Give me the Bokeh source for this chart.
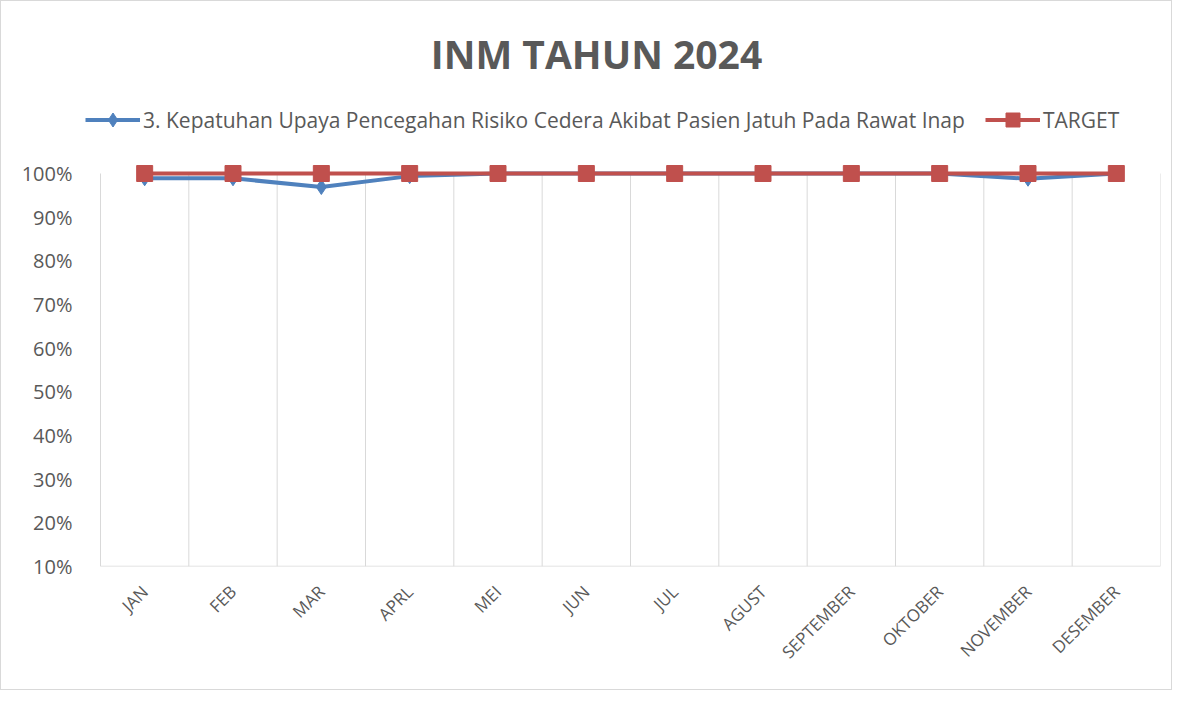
import numpy as np
from bokeh.plotting import figure
from bokeh.models import Range1d, FixedTicker, NumeralTickFormatter, Legend, LegendItem, Label
from bokeh.embed import file_html
from bokeh.resources import INLINE

# ---- data ----
months = ["JAN", "FEB", "MAR", "APRL", "MEI", "JUN", "JUL", "AGUST",
          "SEPTEMBER", "OKTOBER", "NOVEMBER", "DESEMBER"]
kepatuhan = [0.989, 0.989, 0.969, 0.994, 1.0, 1.0, 1.0, 1.0, 1.0, 1.0, 0.988, 1.0]
target = [1.0, 1.0, 1.0, 1.0, 1.0, 1.0, 1.0, 1.0, 1.0, 1.0, 1.0, 1.0]
y_ticks = [0.1, 0.2, 0.3, 0.4, 0.5, 0.6, 0.7, 0.8, 0.9, 1.0]
series_name = "3. Kepatuhan Upaya Pencegahan Risiko Cedera Akibat Pasien Jatuh Pada Rawat Inap"
target_name = "TARGET"
title_text = "INM TAHUN 2024"

FONT = "Open Sans"
TXT = "#595959"
GRID = "#D9D9D9"
BLUE = "#4F81BD"
RED = "#C0504D"

# ---- layout (pixels) ----
W, H = 1172, 690
frame_left = 80          # frame starts a bit left of the plot area so the legend fits inside
plot_left, plot_right = 99, 1159
plot_top, plot_bottom = 172, 565   # pixel rows of 100% and 10%

n = len(months)
x = np.arange(n) + 0.5
bounds = np.arange(n + 1)

px_per_cat = (plot_right - plot_left) / n
x_start = -(plot_left - frame_left) / px_per_cat
px_per_unit = (plot_bottom - plot_top) / (y_ticks[-1] - y_ticks[0])
y_end = y_ticks[0] + plot_bottom / px_per_unit

p = figure(width=W, height=H, output_backend="svg", toolbar_location=None,
           x_range=Range1d(x_start, n), y_range=Range1d(y_ticks[0], y_end),
           min_border_left=frame_left, min_border_right=W - plot_right,
           min_border_top=0, min_border_bottom=H - plot_bottom)
p.styles = {"border": "1px solid #D9D9D9"}
p.outline_line_color = None
p.xgrid.grid_line_color = None
p.ygrid.grid_line_color = None

# vertical category-boundary grid lines and bottom baseline
p.segment(x0=bounds, y0=[y_ticks[0]] * len(bounds), x1=bounds,
          y1=[y_ticks[-1]] * len(bounds), line_color=GRID, line_width=1)
p.segment(x0=[0], y0=[y_ticks[0]], x1=[n], y1=[y_ticks[0]], line_color=GRID, line_width=1.5)

# series
bl = p.line(x, kepatuhan, line_color=BLUE, line_width=4)
bs = p.scatter(x, kepatuhan, marker="diamond", size=15,
               fill_color=BLUE, line_color=BLUE)
rl = p.line(x, target, line_color=RED, line_width=4)
rs = p.scatter(x, target, marker="square", size=16, fill_color=RED, line_color=RED)

# axes
p.xaxis.ticker = FixedTicker(ticks=list(x))
p.xaxis.major_label_overrides = {float(v): m for v, m in zip(x, months)}
p.xaxis.major_label_orientation = np.pi / 4
p.xaxis.axis_line_color = None
p.xaxis.major_tick_line_color = None
p.xaxis.minor_tick_line_color = None
p.xaxis.major_label_text_font = FONT
p.xaxis.major_label_text_font_size = "17px"
p.xaxis.major_label_text_color = TXT
p.xaxis.major_label_standoff = 16

p.yaxis.ticker = FixedTicker(ticks=y_ticks)
p.yaxis.formatter = NumeralTickFormatter(format="0%")
p.yaxis.axis_line_color = None
p.yaxis.major_tick_line_color = None
p.yaxis.minor_tick_line_color = None
p.yaxis.major_label_text_font = FONT
p.yaxis.major_label_text_font_size = "20px"
p.yaxis.major_label_text_color = TXT
p.yaxis.major_label_standoff = 3

# legend (inside the frame, above the plot area)
legend = Legend(items=[LegendItem(label=series_name, renderers=[bl, bs]),
                       LegendItem(label=target_name, renderers=[rl, rs])],
                orientation="horizontal", location=(4, 429),
                glyph_width=55, glyph_height=35, label_standoff=3, spacing=20,
                padding=0, margin=0, border_line_color=None,
                background_fill_alpha=0,
                label_text_font=FONT, label_text_font_size="21px",
                label_text_color=TXT)
p.add_layout(legend)

# title
p.add_layout(Label(x=595 - frame_left, y=plot_bottom - 52, x_units="screen", y_units="screen",
                   text=title_text, text_align="center", text_baseline="alphabetic",
                   text_font=FONT, text_font_size="39px", text_font_style="bold",
                   text_color=TXT))

open("out.html", "w").write(file_html(p, INLINE))
